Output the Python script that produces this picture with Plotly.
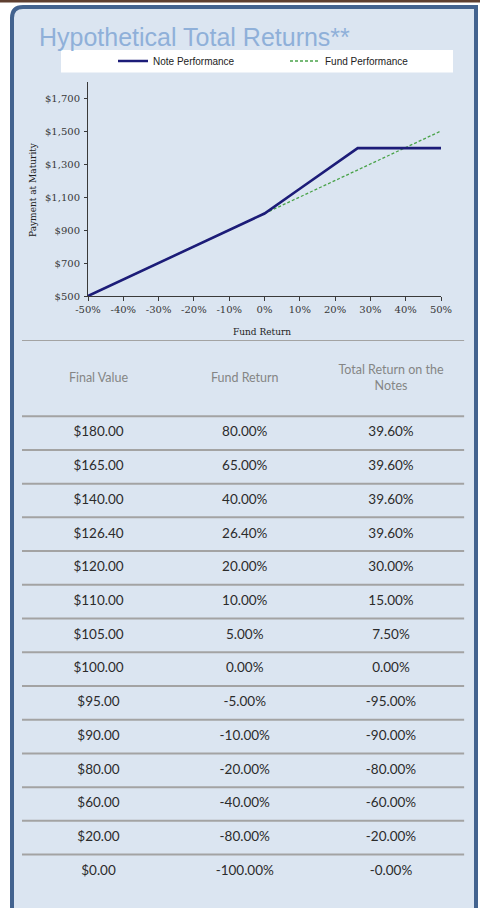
import plotly.graph_objects as go

# ---------------- chart data ----------------
fund_return = [-0.5, -0.4, -0.3, -0.2, -0.1, 0.0, 0.1, 0.2, 0.264, 0.3, 0.4, 0.5]
note_payment = [500, 600, 700, 800, 900, 1000, 1150, 1300, 1396, 1396, 1396, 1396]
fund_payment = [500, 600, 700, 800, 900, 1000, 1100, 1200, 1264, 1300, 1400, 1500]

x_tick_vals = [-0.5, -0.4, -0.3, -0.2, -0.1, 0.0, 0.1, 0.2, 0.3, 0.4, 0.5]
x_tick_text = ["-50%", "-40%", "-30%", "-20%", "-10%", "0%", "10%", "20%", "30%", "40%", "50%"]
y_tick_vals = [500, 700, 900, 1100, 1300, 1500, 1700]
y_tick_text = ["$500", "$700", "$900", "$1,100", "$1,300", "$1,500", "$1,700"]

# ---------------- table data ----------------
table_headers = ["Final Value", "Fund Return", "Total Return on the<br>Notes"]
final_values = ["$180.00", "$165.00", "$140.00", "$126.40", "$120.00", "$110.00", "$105.00",
                "$100.00", "$95.00", "$90.00", "$80.00", "$60.00", "$20.00", "$0.00"]
fund_returns_tbl = ["80.00%", "65.00%", "40.00%", "26.40%", "20.00%", "10.00%", "5.00%",
                    "0.00%", "-5.00%", "-10.00%", "-20.00%", "-40.00%", "-80.00%", "-100.00%"]
note_returns_tbl = ["39.60%", "39.60%", "39.60%", "39.60%", "30.00%", "15.00%", "7.50%",
                    "0.00%", "-95.00%", "-90.00%", "-80.00%", "-60.00%", "-20.00%", "-0.00%"]

W, H = 480, 908


def px(x):
    return x / W


def py(y):
    return 1 - y / H


PANEL = "#dbe5f1"
BORDER = "#43638f"
AXIS = "#3a3a3a"
SERIF = "DejaVu Serif"
TICKCOL = "#383838"

fig = go.Figure()

fig.add_trace(go.Scatter(
    x=fund_return, y=fund_payment, mode="lines", name="Fund Performance",
    line=dict(color="#4aa34a", width=1.3, dash="3px,2px"), legendrank=2,
    hoverinfo="skip"))
fig.add_trace(go.Scatter(
    x=fund_return, y=note_payment, mode="lines", name="Note Performance",
    line=dict(color="#1c1c78", width=2.6), legendrank=1, hoverinfo="skip"))

# table text through a hidden pair of axes (column index / row index)
columns = [final_values, fund_returns_tbl, note_returns_tbl]
for ci, col in enumerate(columns):
    fig.add_trace(go.Scatter(
        x=[ci] * len(col), y=list(range(len(col))), text=col, mode="text",
        textposition="middle center",
        textfont=dict(family="Lato", size=13.5, color="#2b2b2b"),
        xaxis="x2", yaxis="y2", showlegend=False, hoverinfo="skip", cliponaxis=False))
fig.add_trace(go.Scatter(
    x=list(range(len(table_headers))), y=[-1.6] * len(table_headers), text=table_headers,
    mode="text", textposition="middle center",
    textfont=dict(family="Lato", size=12.5, color="#858585"),
    xaxis="x2", yaxis="y2", showlegend=False, hoverinfo="skip", cliponaxis=False))

shapes = []
# top brown bar
shapes.append(dict(type="rect", xref="paper", yref="paper", x0=0, x1=1, y0=py(2.5), y1=1,
                   fillcolor="#5e3f30", line=dict(width=0), layer="below"))
# panel with rounded top-left corner
panel_path = (f"M {px(12)},{py(915)} L {px(12)},{py(18)} Q {px(12)},{py(7)} {px(23)},{py(7)} "
              f"L {px(476)},{py(7)} L {px(476)},{py(915)}")
shapes.append(dict(type="path", xref="paper", yref="paper", path=panel_path,
                   fillcolor=PANEL, line=dict(color=BORDER, width=4), layer="below"))
# legend white box
shapes.append(dict(type="rect", xref="paper", yref="paper", x0=px(61), x1=px(453),
                   y0=py(72.5), y1=py(50), fillcolor="white", line=dict(width=0), layer="below"))
# table rule lines
rule_rows = [-2.76] + [k - 0.5 for k in range(len(final_values))]
for r in rule_rows:
    shapes.append(dict(type="line", xref="x2", yref="y2", x0=-0.523, x1=2.5, y0=r, y1=r,
                       line=dict(color="#a3a3a3", width=2), layer="below"))

annotations = [
    dict(text="Hypothetical Total Returns**", x=px(37), y=py(37), xref="paper", yref="paper",
         xanchor="left", yanchor="middle", showarrow=False,
         font=dict(family="Liberation Sans", size=25, color="#8fb0d9")),
    dict(text="Fund Return", x=px(261.5), y=py(332), xref="paper", yref="paper",
         xanchor="center", yanchor="middle", showarrow=False,
         font=dict(family=SERIF, size=9, color="#222222")),
    dict(text="Payment at Maturity", x=px(33), y=py(190), xref="paper", yref="paper",
         xanchor="center", yanchor="middle", showarrow=False, textangle=-90,
         font=dict(family=SERIF, size=9, color="#222222")),
]

fig.update_layout(
    width=W, height=H,
    margin=dict(l=0, r=0, t=0, b=0, pad=0),
    paper_bgcolor="white", plot_bgcolor="rgba(0,0,0,0)",
    template="none",
    showlegend=True,
    legend=dict(orientation="h", x=px(113), y=py(61), xanchor="left", yanchor="middle",
                bgcolor="rgba(0,0,0,0)", borderwidth=0, entrywidth=127,
                entrywidthmode="pixels", traceorder="normal",
                font=dict(family="Liberation Sans", size=10, color="#222222")),
    xaxis=dict(domain=[px(88), px(441)], range=[-0.5, 0.5], anchor="y",
               tickvals=x_tick_vals, ticktext=x_tick_text,
               showline=True, linecolor=AXIS, linewidth=1.3,
               ticks="outside", ticklen=4, tickcolor=AXIS, tickwidth=1,
               tickfont=dict(family=SERIF, size=10, color=TICKCOL),
               showgrid=False, zeroline=False, automargin=False, fixedrange=True),
    yaxis=dict(domain=[py(296), py(81.5)], range=[500, 1800], anchor="x",
               tickvals=y_tick_vals, ticktext=y_tick_text,
               showline=True, linecolor=AXIS, linewidth=1,
               ticks="outside", ticklen=3, tickcolor=AXIS, tickwidth=1,
               ticklabelstandoff=2,
               tickfont=dict(family=SERIF, size=10, color=TICKCOL),
               showgrid=False, zeroline=False, automargin=False, fixedrange=True),
    xaxis2=dict(domain=[0, 1], range=[-0.6735, 2.6085], anchor="y2", visible=False,
                fixedrange=True),
    yaxis2=dict(domain=[0, py(340)], range=[14.084, -2.76], anchor="x2", visible=False,
                fixedrange=True),
    shapes=shapes,
    annotations=annotations,
)

fig.write_html("out.html", config={"displayModeBar": False},
               post_script="document.body.style.margin='0';document.body.style.overflow='hidden';")
